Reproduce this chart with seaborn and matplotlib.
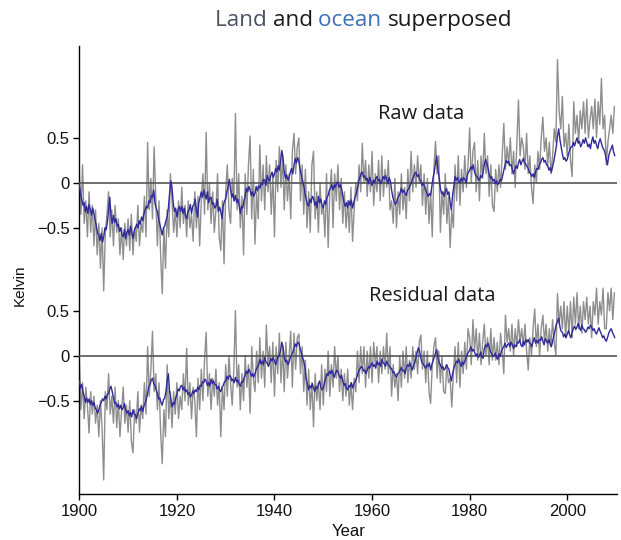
import numpy as np
import pandas as pd
import matplotlib
matplotlib.use("Agg")
import matplotlib.pyplot as plt
import seaborn as sns

# Temperature anomalies (K), 1900-2009, a fixed number of samples per year
raw_ocean = [
    -0.02,-0.12,-0.18,-0.25, -0.22,-0.32,-0.26,-0.34, -0.24,-0.30,-0.36,-0.28, -0.34,-0.42,-0.48,-0.56, -0.58,-0.64,-0.56,-0.66,
    -0.60,-0.50,-0.52,-0.44, -0.30,-0.16,-0.38,-0.45, -0.36,-0.44,-0.40,-0.48, -0.46,-0.54,-0.50,-0.58, -0.60,-0.52,-0.62,-0.55,
    -0.52,-0.58,-0.48,-0.55, -0.62,-0.54,-0.50,-0.46, -0.50,-0.42,-0.46,-0.38, -0.42,-0.34,-0.30,-0.26, -0.28,-0.20,-0.22,-0.14,
    -0.16,-0.08,-0.22,-0.28, -0.32,-0.40,-0.46,-0.52, -0.58,-0.50,-0.48,-0.42, -0.38,-0.28,-0.12,0.02, -0.05,-0.22,-0.32,-0.28,
    -0.38,-0.30,-0.26,-0.32, -0.26,-0.34,-0.28,-0.36, -0.40,-0.32,-0.30,-0.24, -0.34,-0.26,-0.24,-0.18, -0.30,-0.38,-0.22,-0.16,
    -0.10,-0.16,-0.08,-0.13, -0.18,-0.10,-0.22,-0.17, -0.16,-0.24,-0.22,-0.28, -0.26,-0.18,-0.32,-0.27, -0.32,-0.40,-0.26,-0.20,
    -0.18,-0.10,-0.04,0.04, -0.08,-0.16,-0.12,-0.20, -0.14,-0.22,-0.18,-0.25, -0.34,-0.26,-0.28,-0.20, -0.14,-0.06,-0.10,-0.04,
    -0.08,-0.14,-0.10,-0.15, -0.12,-0.04,-0.09,-0.03, -0.06,0.00,-0.02,0.04, 0.03,-0.03,0.08,0.04, 0.02,0.08,0.12,0.06,
    0.10,0.16,0.12,0.19, 0.14,0.24,0.36,0.28, 0.12,0.05,0.09,0.03, 0.06,0.12,0.16,0.10, 0.20,0.27,0.22,0.28,
    0.24,0.15,0.08,0.02, -0.03,-0.12,-0.18,-0.24, -0.26,-0.18,-0.22,-0.15, -0.17,-0.25,-0.21,-0.28, -0.15,-0.22,-0.18,-0.25,
    -0.28,-0.20,-0.24,-0.16, -0.14,-0.08,-0.06,-0.02, -0.08,-0.02,-0.05,0.00, 0.01,-0.05,-0.02,-0.07, -0.14,-0.22,-0.26,-0.22,
    -0.28,-0.20,-0.25,-0.19, -0.28,-0.22,-0.16,-0.12, -0.06,0.02,0.06,0.10, 0.12,0.06,0.08,0.03, 0.05,-0.01,0.06,0.02,
    -0.03,0.03,0.00,0.05, 0.07,0.02,0.04,-0.01, 0.02,0.07,0.04,0.08, 0.04,-0.01,0.06,0.02, -0.08,-0.16,-0.20,-0.24,
    -0.22,-0.17,-0.15,-0.11, -0.06,-0.11,-0.08,-0.12, -0.14,-0.08,-0.07,-0.03, -0.01,0.04,0.07,0.10, 0.12,0.07,0.09,0.04,
    0.02,-0.03,0.00,-0.04, -0.08,-0.12,-0.15,-0.12, -0.14,-0.04,0.06,0.12, 0.22,0.30,0.14,0.06, -0.06,-0.12,-0.10,-0.15,
    -0.10,-0.06,-0.13,-0.10, -0.22,-0.30,-0.14,-0.04, 0.07,0.03,0.06,0.02, 0.00,0.05,0.02,0.06, 0.04,0.00,0.08,0.12,
    0.14,0.18,0.15,0.20, 0.12,0.08,0.07,0.04, 0.03,0.08,0.06,0.12, 0.20,0.26,0.22,0.17, 0.09,0.05,0.07,0.02,
    0.04,-0.01,0.02,-0.02, 0.00,0.04,0.02,0.08, 0.14,0.20,0.25,0.22, 0.24,0.19,0.20,0.15, 0.10,0.15,0.19,0.16,
    0.22,0.26,0.20,0.24, 0.27,0.22,0.21,0.18, 0.16,0.12,0.10,0.07, 0.10,0.06,0.12,0.16, 0.15,0.20,0.22,0.26,
    0.28,0.23,0.25,0.20, 0.19,0.14,0.17,0.12, 0.18,0.24,0.32,0.40, 0.52,0.60,0.48,0.40, 0.32,0.26,0.28,0.24,
    0.26,0.32,0.36,0.40, 0.40,0.45,0.41,0.46, 0.50,0.44,0.46,0.40, 0.43,0.48,0.44,0.50, 0.45,0.40,0.43,0.38,
    0.46,0.51,0.44,0.47, 0.42,0.38,0.45,0.49, 0.44,0.39,0.37,0.33, 0.26,0.20,0.30,0.35, 0.38,0.42,0.34,0.30,
]

raw_land = [
    0.10,-0.35,0.20, -0.45,-0.20,-0.60, -0.10,-0.55,-0.25, -0.70,-0.30,-0.80, -0.45,-0.95,-0.50,
    -1.20,-0.55,-0.35, -0.10,-0.60,-0.30, -0.70,-0.25,-0.55, -0.40,-0.80,-0.50, -0.85,-0.45,-0.70,
    -0.40,-0.75,-0.35, -0.80,-0.50,-0.65, -0.25,-0.70,-0.45, -0.55,-0.15,-0.60, 0.45,-0.30,0.05,
    -0.40,0.40,-0.15, -0.70,-0.20,-0.80, -1.23,-0.50,-0.95, -0.30,-0.60,0.10, -0.20,-0.55,-0.30,
    -0.60,-0.20,-0.50, -0.05,-0.45,-0.25, -0.60,-0.20,-0.50, -0.35,-0.65,-0.10, -0.50,-0.15,-0.70,
    -0.20,0.10,-0.35, 0.56,-0.30,0.00, -0.45,-0.10,-0.55, -0.30,0.10,-0.60, -0.75,-0.20,-0.90,
    -0.10,0.20,-0.30, -0.45,0.05,-0.20, 0.77,-0.30,0.10, -0.50,-0.15,-0.80, 0.10,-0.35,0.20,
    0.52,-0.40,0.15, -0.68,-0.10,-0.40, 0.42,-0.20,0.20, -0.30,0.30,-0.10, 0.20,-0.35,0.10,
    -0.60,0.25,-0.10, 0.40,-0.05,0.30, -0.30,0.20,-0.20, 0.10,-0.40,0.35, 0.55,0.10,0.40,
    0.50,-0.20,0.20, -0.35,0.15,-0.50, -0.10,-0.55,0.20, 0.35,-0.40,-0.10, -0.55,0.00,-0.35,
    -0.25,-0.60,0.10, -0.72,-0.10,0.15, -0.50,0.10,-0.20, 0.20,-0.30,0.05, -0.45,-0.10,-0.50,
    -0.20,-0.55,-0.05, -0.65,-0.30,0.00, -0.20,0.20,-0.10, 0.44,0.00,0.25, -0.15,0.20,-0.10,
    0.35,-0.25,0.10, -0.10,0.25,-0.20, 0.30,-0.15,0.15, -0.05,0.25,-0.30, -0.20,-0.45,0.05,
    -0.50,-0.10,-0.35, 0.10,-0.30,-0.05, -0.40,0.15,-0.20, 0.35,-0.10,0.20, -0.05,0.30,0.00,
    0.20,-0.25,0.10, -0.35,0.05,-0.45, -0.10,-0.60,0.15, 0.46,0.10,0.30, -0.55,-0.10,-0.35,
    0.10,-0.45,-0.15, -0.72,-0.30,-0.50, 0.20,-0.20,0.30, -0.25,0.15,-0.10, 0.30,-0.05,0.20,
    0.61,0.00,0.35, 0.45,-0.10,0.25, -0.20,0.30,0.05, 0.55,0.10,0.30, -0.15,0.20,-0.25,
    -0.32,0.15,-0.10, 0.20,-0.05,0.30, 0.66,0.15,0.40, 0.20,0.50,0.10, 0.35,-0.05,0.45,
    0.92,0.30,0.50, 0.40,0.15,0.55, 0.10,0.30,-0.05, -0.23,0.20,0.00, 0.35,0.15,0.50,
    0.73,0.35,0.50, 0.20,0.45,0.10, 0.30,0.60,0.45, 1.37,0.80,0.60, 0.96,0.40,0.55,
    0.30,0.65,0.25, 0.07,0.90,0.55, 0.75,0.45,0.80, 0.60,0.90,0.55, 0.93,0.50,0.70,
    0.85,0.60,0.93, 0.50,0.90,0.65, 1.16,0.60,0.75, 0.20,0.45,0.60, 0.75,0.55,0.85,
]

resid_ocean = [
    -0.28,-0.36,-0.32,-0.40, -0.45,-0.52,-0.47,-0.52, -0.48,-0.54,-0.50,-0.55, -0.52,-0.58,-0.60,-0.64, -0.60,-0.55,-0.52,-0.48,
    -0.50,-0.45,-0.48,-0.43, -0.42,-0.37,-0.34,-0.40, -0.47,-0.53,-0.52,-0.57, -0.54,-0.59,-0.55,-0.60, -0.58,-0.53,-0.60,-0.64,
    -0.61,-0.67,-0.63,-0.68, -0.60,-0.65,-0.66,-0.70, -0.64,-0.59,-0.61,-0.56, -0.62,-0.56,-0.52,-0.48, -0.42,-0.34,-0.32,-0.27,
    -0.25,-0.31,-0.33,-0.38, -0.42,-0.48,-0.47,-0.52, -0.55,-0.49,-0.47,-0.40, -0.28,-0.20,-0.40,-0.48, -0.57,-0.52,-0.54,-0.47,
    -0.43,-0.37,-0.39,-0.34, -0.33,-0.38,-0.35,-0.40, -0.38,-0.43,-0.41,-0.46, -0.44,-0.39,-0.42,-0.38, -0.40,-0.35,-0.38,-0.33,
    -0.34,-0.29,-0.30,-0.26, -0.28,-0.33,-0.30,-0.34, -0.26,-0.31,-0.28,-0.32, -0.32,-0.37,-0.34,-0.38, -0.40,-0.35,-0.33,-0.29,
    -0.28,-0.23,-0.26,-0.22, -0.23,-0.28,-0.26,-0.30, -0.24,-0.29,-0.27,-0.32, -0.34,-0.29,-0.30,-0.25, -0.22,-0.17,-0.20,-0.15,
    -0.18,-0.23,-0.20,-0.24, -0.20,-0.15,-0.13,-0.10, -0.04,-0.09,-0.06,-0.10, -0.02,-0.07,-0.08,-0.12, -0.08,-0.03,-0.06,-0.02,
    -0.06,-0.10,-0.05,-0.01, 0.00,0.06,0.15,0.10, -0.02,-0.07,-0.05,-0.10, -0.07,-0.02,0.01,0.04, 0.08,0.13,0.10,0.15,
    0.14,0.08,0.03,-0.02, -0.06,-0.14,-0.26,-0.32, -0.38,-0.33,-0.36,-0.31, -0.36,-0.40,-0.34,-0.37, -0.32,-0.28,-0.35,-0.38,
    -0.36,-0.30,-0.25,-0.20, -0.22,-0.17,-0.20,-0.16, -0.20,-0.24,-0.19,-0.16, -0.18,-0.22,-0.25,-0.22, -0.28,-0.33,-0.31,-0.36,
    -0.38,-0.33,-0.35,-0.30, -0.36,-0.31,-0.29,-0.26, -0.22,-0.17,-0.15,-0.12, -0.13,-0.17,-0.16,-0.20, -0.16,-0.12,-0.14,-0.10,
    -0.08,-0.12,-0.10,-0.14, -0.06,-0.10,-0.08,-0.12, -0.04,-0.08,-0.09,-0.12, -0.06,-0.10,-0.11,-0.14, -0.14,-0.19,-0.18,-0.22,
    -0.24,-0.20,-0.19,-0.16, -0.13,-0.17,-0.16,-0.20, -0.14,-0.10,-0.12,-0.08, -0.12,-0.16,-0.11,-0.07, -0.02,0.04,0.09,0.05,
    -0.03,-0.08,-0.09,-0.12, -0.14,-0.10,-0.12,-0.08, -0.16,-0.10,-0.06,-0.01, 0.03,0.07,-0.03,-0.08, -0.10,-0.14,-0.12,-0.16,
    -0.14,-0.10,-0.13,-0.15, -0.22,-0.28,-0.20,-0.14, -0.10,-0.06,-0.08,-0.04, -0.08,-0.12,-0.07,-0.10, -0.06,-0.02,0.01,0.04,
    0.06,0.10,0.05,0.07, 0.04,0.00,0.02,-0.02, 0.00,0.04,-0.01,-0.03, 0.08,0.12,0.10,0.14, 0.10,0.05,0.02,-0.01,
    0.00,0.03,-0.02,-0.04, 0.02,-0.01,0.05,0.08, 0.10,0.14,0.09,0.12, 0.14,0.10,0.15,0.12, 0.08,0.12,0.10,0.15,
    0.14,0.18,0.12,0.10, 0.16,0.12,0.18,0.15, 0.18,0.14,0.13,0.10, 0.16,0.20,0.14,0.17, 0.14,0.18,0.17,0.21,
    0.16,0.12,0.19,0.16, 0.14,0.18,0.13,0.10, 0.16,0.22,0.28,0.35, 0.38,0.42,0.32,0.27, 0.26,0.21,0.24,0.20,
    0.24,0.28,0.23,0.20, 0.26,0.30,0.33,0.29, 0.32,0.36,0.31,0.28, 0.34,0.30,0.29,0.26, 0.28,0.32,0.30,0.34,
    0.32,0.28,0.30,0.26, 0.24,0.28,0.31,0.27, 0.24,0.20,0.22,0.18, 0.16,0.20,0.25,0.28, 0.30,0.26,0.23,0.20,
]

resid_land = [
    -0.05,-0.60,-0.30, -0.70,-0.35,-0.55, -0.86,-0.40,-0.65, -0.45,-0.75,-0.55, -0.90,-0.50,-0.80,
    -1.38,-0.40,-0.60, -0.20,-0.65,-0.45, -0.75,-0.35,-0.80, -0.50,-0.90,-0.60, -0.35,-0.75,-0.55,
    -0.85,-0.50,-0.95, -1.08,-0.60,-0.75, -0.40,-0.85,-0.55, -0.70,-0.30,-0.65, 0.10,-0.45,-0.15,
    0.27,-0.40,-0.20, -0.60,-0.30,-0.85, -1.20,-0.60,-0.90, -0.10,-0.70,-0.40, -0.80,-0.40,-0.65,
    -0.30,-0.70,-0.45, -0.60,-0.20,-0.50, 0.08,-0.55,-0.30, -0.70,-0.35,-0.50, -0.90,-0.25,-0.60,
    -0.15,-0.50,-0.05, 0.26,-0.45,-0.20, -0.60,-0.25,-0.45, -0.15,-0.55,-0.30, -0.90,-0.35,-0.60,
    -0.10,-0.45,0.00, -0.30,-0.55,-0.15, 0.50,-0.35,-0.10, -0.60,-0.20,-0.50, 0.00,-0.35,-0.10,
    -0.64,0.10,-0.25, -0.40,0.05,-0.30, 0.20,-0.25,0.05, -0.35,0.34,-0.10, 0.10,-0.30,0.15,
    -0.45,0.10,-0.20, 0.25,-0.30,0.10, -0.40,0.15,-0.25, 0.00,0.27,-0.35, 0.25,-0.15,0.20,
    0.24,-0.20,0.10, -0.40,-0.05,-0.55, -0.15,-0.60,-0.30, -0.79,-0.20,-0.50, -0.30,-0.60,-0.10,
    -0.55,-0.15,-0.40, 0.05,-0.45,-0.10, -0.35,0.10,-0.25, 0.00,-0.40,-0.15, -0.50,-0.20,-0.45,
    -0.15,-0.55,-0.30, -0.60,-0.25,-0.40, 0.05,-0.30,0.10, -0.20,0.10,-0.35, 0.05,-0.25,0.10,
    -0.30,0.15,-0.10, 0.10,-0.30,0.05, -0.20,0.10,-0.15, 0.25,-0.20,0.10, -0.45,-0.10,-0.35,
    -0.20,-0.50,0.00, -0.35,0.05,-0.25, 0.10,-0.30,-0.05, -0.25,0.10,-0.15, 0.05,-0.20,0.15,
    0.23,-0.15,0.05, -0.30,0.05,-0.40, -0.53,-0.10,0.10, 0.20,-0.25,0.05, -0.30,0.00,-0.40,
    -0.42,-0.10,-0.30, -0.25,-0.57,-0.20, 0.10,-0.30,0.15, -0.35,0.05,-0.20, 0.15,-0.15,0.30,
    0.20,-0.10,0.40, 0.05,0.30,-0.05, 0.25,-0.10,0.15, 0.35,0.00,0.20, -0.10,0.30,-0.05,
    0.20,-0.05,0.15, -0.10,0.25,0.05, -0.20,0.45,0.15, 0.30,0.05,0.35, 0.00,0.30,0.10,
    0.40,0.15,0.30, 0.10,0.35,0.05, -0.16,0.20,0.00, 0.30,0.52,0.10, 0.35,0.00,0.30,
    0.45,0.15,0.35, 0.05,0.30,0.10, 0.40,0.15,0.00, 0.69,0.35,0.55, 0.30,0.60,0.20,
    0.55,0.25,0.60, 0.20,0.65,0.35, 0.70,0.30,0.55, 0.25,0.60,0.40, 0.65,0.35,0.55,
    0.20,0.60,0.45, 0.75,0.35,0.60, 0.45,0.75,0.30, 0.30,0.70,0.50, 0.75,0.40,0.70,
]

start_year = 1900
n_years = 110
raw_offset = 1.92          # vertical shift that stacks the raw panel above the residual one
ytick_values = [-0.5, 0.0, 0.5]
ytick_labels = ["\u22120.5", "0", "0.5"]
xtick_years = [1900, 1920, 1940, 1960, 1980, 2000]


def as_frame(values, offset=0.0):
    n = len(values)
    per_year = n // n_years
    years = start_year + np.arange(n) / per_year
    return pd.DataFrame({"year": years, "value": np.asarray(values) + offset})


sns.set_theme(style="ticks")
plt.rcParams["font.family"] = ["Liberation Sans", "DejaVu Sans"]

fig = plt.figure(figsize=(6.21, 5.40), dpi=100)
ax = fig.add_axes([0.1277, 0.0846, 0.8659, 0.8302])

gray = "#8e8e8e"
blue = "#302a98"

ax.axhline(0.0, color="#555555", lw=1.2, zorder=3)
ax.axhline(raw_offset, color="#555555", lw=1.2, zorder=3)

for land, ocean, off in [(resid_land, resid_ocean, 0.0), (raw_land, raw_ocean, raw_offset)]:
    sns.lineplot(data=as_frame(land, off), x="year", y="value", ax=ax,
                 color=gray, lw=1.0, zorder=2)
    sns.lineplot(data=as_frame(ocean, off), x="year", y="value", ax=ax,
                 color=blue, lw=1.0, zorder=4)

ax.set_xlim(1900, 2010.2)
ax.set_ylim(-1.54, 3.44)

yt = ytick_values + [v + raw_offset for v in ytick_values]
ax.set_yticks(yt)
ax.set_yticklabels(ytick_labels + ytick_labels)
ax.set_xticks(xtick_years)
ax.set_xticklabels([str(y) for y in xtick_years])
ax.tick_params(axis="both", direction="out", length=4, width=1, labelsize=12,
               color="black", labelcolor="#111111", pad=3)
ax.set_xlabel("")
ax.set_ylabel("")
for s in ["top", "right"]:
    ax.spines[s].set_visible(False)
for s in ["left", "bottom"]:
    ax.spines[s].set_color("black")
    ax.spines[s].set_linewidth(1.0)

fig.text(20 / 621, 1 - 285 / 540, "Kelvin", rotation=90, ha="center", va="center",
         fontsize=11, color="#111111")
fig.text(0.5 * (79.3 + 617) / 621, 1 - 531 / 540, "Year", ha="center", va="center",
         fontsize=12, color="#111111")

label_font = ["Open Sans", "DejaVu Sans"]
ax.text(1970.0, 2.69, "Raw data", ha="center", va="center", fontsize=14.5,
        family=label_font, color="#1a1a1a")
ax.text(1972.3, 0.66, "Residual data", ha="center", va="center", fontsize=14.5,
        family=label_font, color="#1a1a1a")

# Title with coloured words
parts = [("Land ", "#4b5264"), ("and ", "#1a1a1a"), ("ocean ", "#3c6fb6"), ("superposed", "#1a1a1a")]
t = fig.text(215 / 621, 1 - 26 / 540, parts[0][0], color=parts[0][1], fontsize=16.2,
             family=label_font, ha="left", va="baseline")
for txt, col in parts[1:]:
    t = ax.annotate(txt, xy=(1, 0), xycoords=t, xytext=(0, 0), textcoords="offset points",
                    color=col, fontsize=16.2, family=label_font, ha="left", va="bottom",
                    annotation_clip=False)

fig.savefig("out.png", dpi=100)
